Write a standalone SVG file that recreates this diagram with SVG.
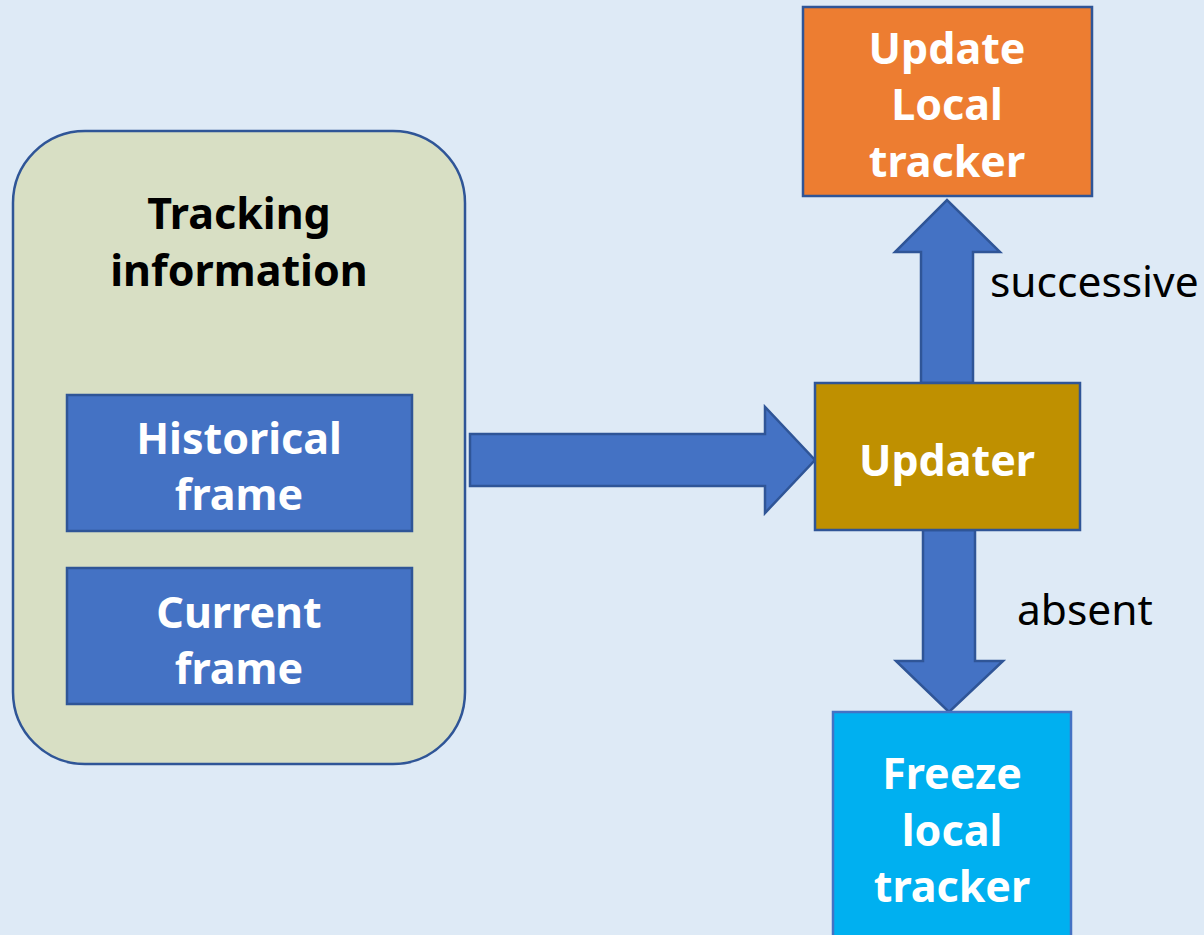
<svg xmlns="http://www.w3.org/2000/svg" width="1204" height="935" viewBox="0 0 1204 935">
<style>
.b{font-family:"Noto Sans","Open Sans",sans-serif;font-weight:bold;font-size:43px;text-anchor:middle}
.w{fill:#fff}
.k{fill:#000}
.l{font-family:"Noto Sans","Open Sans",sans-serif;font-size:42.5px;fill:#000}
</style>
<rect width="1204" height="935" fill="#DEEAF6"/>
<g id="connectors" fill="#4472C4" stroke="#2F5597" stroke-width="2.5">
<polygon points="470,434 765,434 765,407 815,460 765,513 765,486 470,486"/>
<polygon points="921,383 921,252 895,252 947,200 1000,252 973,252 973,383"/>
<polygon points="923,530 975,530 975,661 1003,661 949,712 896,661 923,661"/>
</g>
<g id="tracking-info">
<rect x="13" y="131" width="452" height="633" rx="72" fill="#D8DFC4" stroke="#2F5597" stroke-width="2.5"/>
<text class="b k" x="239" y="229">Tracking</text>
<text class="b k" x="239" y="286">information</text>
</g>
<g id="historical">
<rect x="67" y="395" width="345" height="136" fill="#4472C4" stroke="#2F5597" stroke-width="2.5"/>
<text class="b w" x="239" y="454">Historical</text>
<text class="b w" x="239" y="510">frame</text>
</g>
<g id="current">
<rect x="67" y="568" width="345" height="136" fill="#4472C4" stroke="#2F5597" stroke-width="2.5"/>
<text class="b w" x="239" y="628">Current</text>
<text class="b w" x="239" y="684">frame</text>
</g>
<g id="updater">
<rect x="815" y="383" width="265" height="147" fill="#BF9000" stroke="#2F5597" stroke-width="2.5"/>
<text class="b w" x="947" y="476">Updater</text>
</g>
<g id="update-local">
<rect x="803" y="7" width="289" height="189" fill="#ED7D31" stroke="#2F5597" stroke-width="2.5"/>
<text class="b w" x="947" y="64">Update</text>
<text class="b w" x="947" y="120">Local</text>
<text class="b w" x="947" y="177">tracker</text>
</g>
<g id="freeze">
<rect x="833" y="712" width="238" height="240" fill="#00B0F0" stroke="#4472C4" stroke-width="2.5"/>
<text class="b w" x="952" y="789">Freeze</text>
<text class="b w" x="952" y="846">local</text>
<text class="b w" x="952" y="902">tracker</text>
</g>
<text class="l" x="990" y="297">successive</text>
<text class="l" x="1017" y="625">absent</text>
</svg>
